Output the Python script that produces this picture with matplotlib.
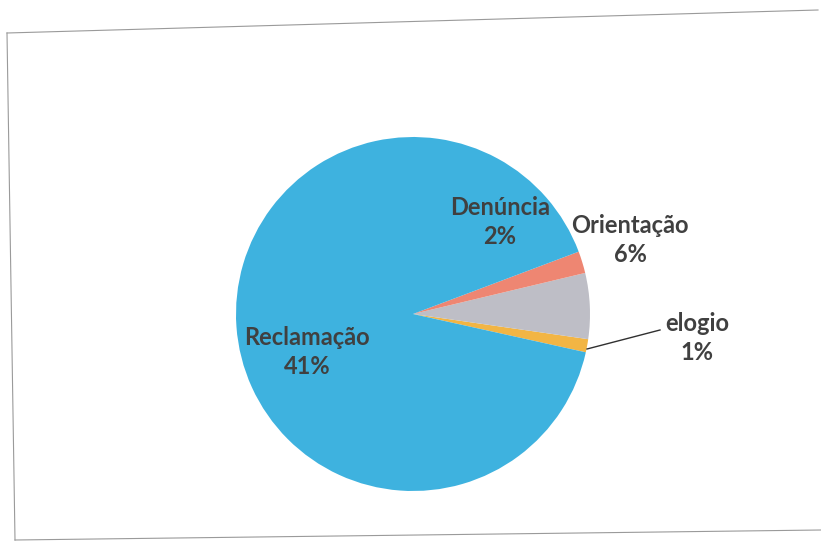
import matplotlib.pyplot as plt
from matplotlib.lines import Line2D

# dados (ordem anti-horária a partir de "elogio")
categorias = ['elogio', 'Orientação', 'Denúncia', 'Reclamação']
valores = [1.2, 6, 2, 90.8]
rotulos = ['1%', '6%', '2%', '41%']
cores = ['#F2B544', '#BEBEC6', '#EE8672', '#3EB2DF']

plt.rcParams['font.family'] = ['Lato', 'DejaVu Sans']

fig = plt.figure(figsize=(8.21, 5.42), dpi=100)
fig.patch.set_facecolor('white')

# moldura do gráfico (levemente inclinada, como no scan)
fig.add_artist(Line2D([7/821, 818/821], [1-33/542, 1-10/542], color='#9a9a9a', lw=0.8))
fig.add_artist(Line2D([7/821, 15/821], [1-33/542, 1-540/542], color='#9a9a9a', lw=0.8))
fig.add_artist(Line2D([15/821, 821/821], [1-540/542, 1-530/542], color='#9a9a9a', lw=0.8))

cx, cy, r = 413, 314, 177
ax = fig.add_axes([(cx - r)/821, 1 - (cy + r)/542, 2*r/821, 2*r/542])
ax.pie(valores, colors=cores, startangle=-12.5, counterclock=True,
       wedgeprops=dict(linewidth=0))
ax.set_xlim(-1, 1)
ax.set_ylim(-1, 1)
ax.set_aspect('equal')
ax.axis('off')

def px(x, y):
    return (x - cx)/r, (cy - y)/r

pos = {'elogio': (697, 338), 'Orientação': (630, 240),
       'Denúncia': (500, 222), 'Reclamação': (307, 352)}
for cat, lab in zip(categorias, rotulos):
    x, y = px(*pos[cat])
    ax.text(x, y, f'{cat}\n{lab}', ha='center', va='center', fontsize=17,
            fontweight='bold', color='#404040', linespacing=1.3, clip_on=False)

# linha de chamada do "elogio"
x0, y0 = px(587, 349)
x1, y1 = px(660, 330)
ax.plot([x0, x1], [y0, y1], color='#303030', lw=1, clip_on=False)

fig.savefig('out.png', dpi=100)
